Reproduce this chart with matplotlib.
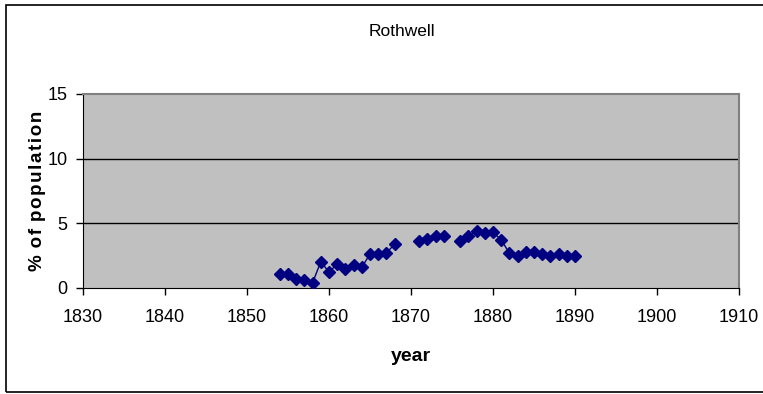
import numpy as np
import matplotlib.pyplot as plt
from matplotlib.patches import Rectangle

# Rothwell series, % of population per year (NaN = no figure for that year)
years = list(range(1854, 1891))
pct = [1.08, 1.05, 0.72, 0.62, 0.41, 2.03, 1.23, 1.85, 1.49, 1.78, 1.60,
       2.62, 2.60, 2.73, 3.37, np.nan, np.nan, 3.60, 3.76, 4.01, 4.01,
       np.nan, 3.60, 3.99, 4.42, 4.27, 4.30, 3.73, 2.68, 2.47, 2.75, 2.75,
       2.60, 2.47, 2.60, 2.47, 2.47]

x_ticks = list(range(1830, 1911, 10))
y_ticks = [0, 5, 10, 15]

plt.rcParams['font.family'] = ['Liberation Sans', 'DejaVu Sans']

fig = plt.figure(figsize=(7.63, 3.94), dpi=100)
ax = fig.add_axes([83 / 763, 106 / 394, 656 / 763, 194 / 394])
ax.set_facecolor('#c0c0c0')

ax.plot(years, pct, color='#000080', lw=1, marker='D', ms=6.5,
        mfc='#000080', mec='#000080', zorder=3)

ax.set_xlim(1830, 1910)
ax.set_ylim(0, 15)
ax.set_xticks(x_ticks)
ax.set_yticks(y_ticks)
ax.tick_params(axis='both', direction='out', length=5, width=1, color='black',
               labelsize=13, pad=6)
ax.tick_params(axis='x', pad=10)
for y in [5, 10]:
    ax.axhline(y, color='black', lw=1, zorder=1)

for side in ['left', 'bottom']:
    ax.spines[side].set_color('black')
for side in ['top', 'right']:
    ax.spines[side].set_color('#808080')
    ax.spines[side].set_linewidth(1.5)

ax.set_xlabel('year', fontsize=14, fontweight='bold', labelpad=16)
ax.set_ylabel('%\u200a o\u200af\u200a p\u200ao\u200ap\u200au\u200al\u200aa\u200at\u200ai\u200ao\u200an',
              fontsize=13.5, fontweight='bold', labelpad=1)
fig.text(402 / 763, 1 - 31 / 394, 'Rothwell', ha='center', va='center',
         fontsize=12.5)

# chart border
fig.patches.append(Rectangle((6 / 763, 2 / 394), 1.0, 387 / 394,
                             transform=fig.transFigure, fill=False,
                             edgecolor='black', lw=1.2))

fig.savefig('out.png', dpi=100)
